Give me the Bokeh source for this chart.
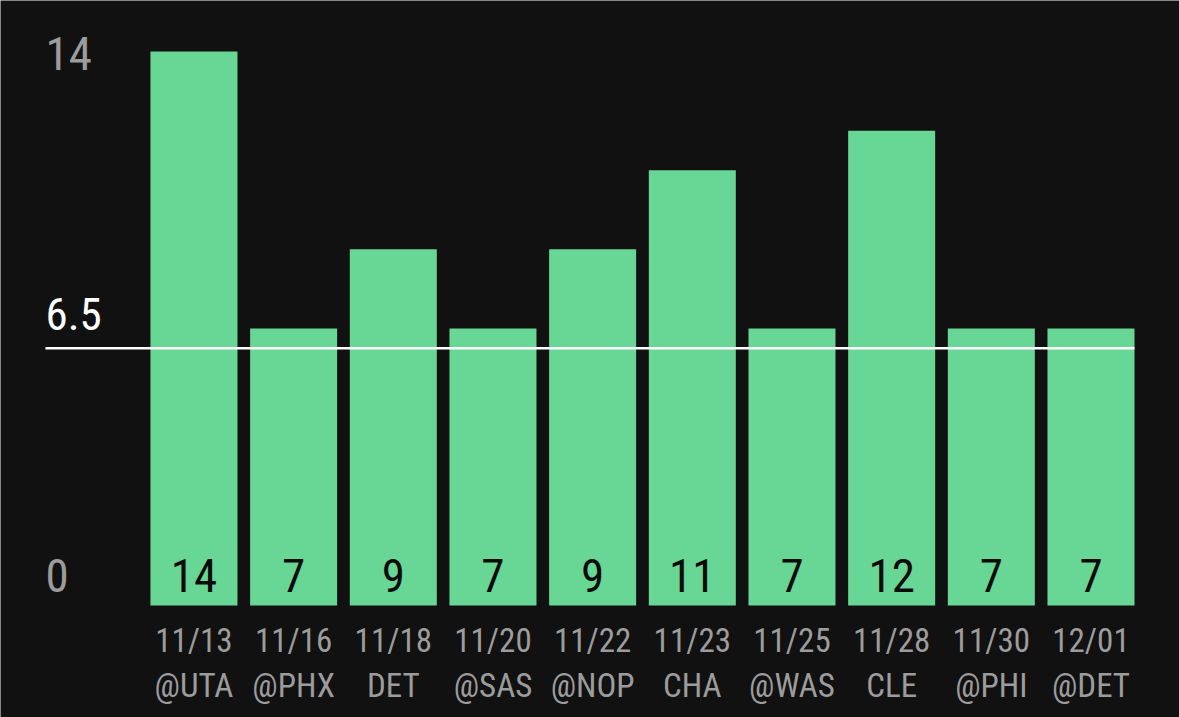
from bokeh.plotting import figure
from bokeh.models import Range1d, ColumnDataSource
from bokeh.core.properties import value
from bokeh.embed import file_html
from bokeh.resources import INLINE

dates = ["11/13", "11/16", "11/18", "11/20", "11/22", "11/23", "11/25", "11/28", "11/30", "12/01"]
opponents = ["@UTA", "@PHX", "DET", "@SAS", "@NOP", "CHA", "@WAS", "CLE", "@PHI", "@DET"]
values = [14, 7, 9, 7, 9, 11, 7, 12, 7, 7]
line_value = 6.5
axis_ticks = [14, 0]
axis_labels = ["14", "0"]

FONT = value("Roboto Condensed, Roboto, sans-serif")
BG = "#111111"
GREEN = "#68D694"
GRAY = "#9c9c9c"

n = len(values)
xs = list(range(n))
bar_w = 0.873

p = figure(width=1179, height=717, output_backend="svg", toolbar_location=None,
           x_range=Range1d(-1.941, 9.888), y_range=Range1d(-2.830, 15.289),
           min_border=0, background_fill_color=BG, border_fill_color=BG,
           outline_line_color=None)
p.axis.visible = False
p.grid.visible = False

src = ColumnDataSource(dict(x=xs, top=values, lab=[str(v) for v in values],
                            d=dates, o=opponents))

p.vbar(x="x", top="top", bottom=0, width=bar_w, source=src,
       fill_color=GREEN, line_color=None)

# value labels inside bars
p.text(x="x", y=0, text="lab", source=src, text_font=FONT, text_font_size="47px",
       text_color="#0b0b0b", text_align="center", text_baseline="middle",
       y_offset=-30)

# x labels
p.text(x="x", y=0, text="d", source=src, text_font=FONT, text_font_size="33px",
       text_color=GRAY, text_align="center", text_baseline="middle",
       y_offset=35)
p.text(x="x", y=0, text="o", source=src, text_font=FONT, text_font_size="33px",
       text_color=GRAY, text_align="center", text_baseline="middle",
       y_offset=80)

label_x = -1.49
# y labels (per-label vertical nudges)
tick_offsets = [2, -30]
ysrc = ColumnDataSource(dict(x=[label_x] * len(axis_ticks), y=axis_ticks,
                             t=axis_labels, off=tick_offsets))
p.text(x="x", y="y", text="t", source=ysrc, text_font=FONT,
       text_font_size="47px", text_color=GRAY, text_align="left",
       text_baseline="middle", y_offset="off")

# reference line and label
p.segment(x0=[label_x], y0=[line_value], x1=[n - 1 + bar_w / 2], y1=[line_value],
          line_color="#ffffff", line_width=2.5)
p.text(x=[label_x], y=[line_value], text=[str(line_value)], text_font=FONT,
       text_font_size="45px", text_color="#ffffff", text_align="left",
       text_baseline="middle", y_offset=-34)

open("out.html", "w").write(file_html(p, INLINE))
